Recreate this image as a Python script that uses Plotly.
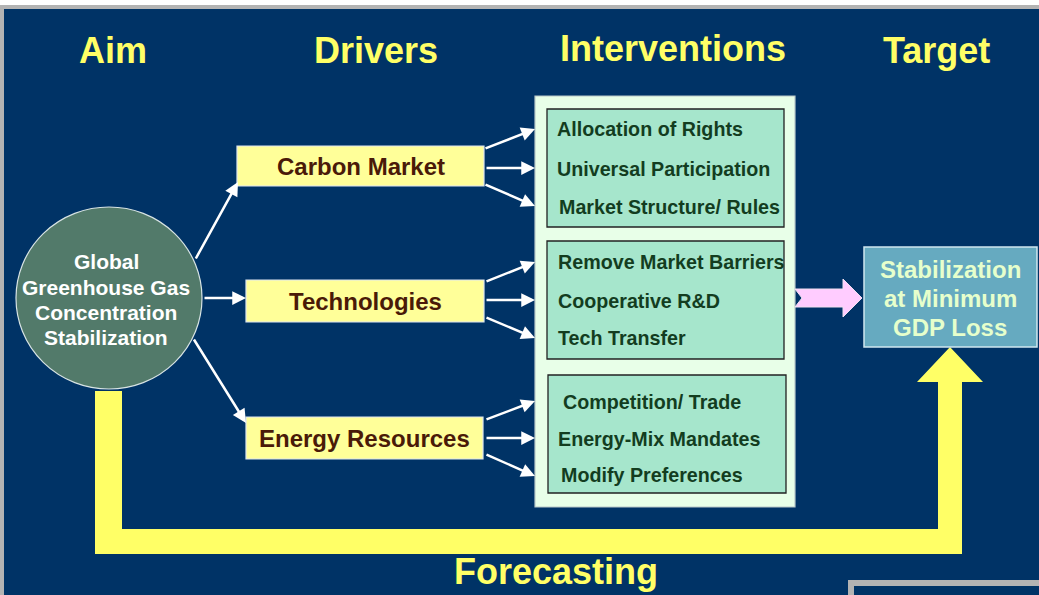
import plotly.graph_objects as go

# ---------------- content ----------------
headers = ["Aim", "Drivers", "Interventions", "Target"]
aim_lines = ["Global", "Greenhouse Gas", "Concentration", "Stabilization"]
drivers = ["Carbon Market", "Technologies", "Energy Resources"]
interventions = [
    ["Allocation of Rights", "Universal Participation", "Market Structure/ Rules"],
    ["Remove Market Barriers", "Cooperative R&D", "Tech Transfer"],
    ["Competition/ Trade", "Energy-Mix Mandates", "Modify Preferences"],
]
target_lines = ["Stabilization", "at Minimum", "GDP Loss"]
footer = "Forecasting"

# ---------------- geometry / styles ----------------
W, H = 1039, 595
NAVY = "#003366"
YELLOW = "#FFFF66"
GRAY = "#B3B3B3"
FONT = "Liberation Sans, Arial, sans-serif"

header_pos = [(113, 50), (376, 50), (673, 48), (936, 50)]
footer_pos = (556, 571)
circle_box = (16, 207, 202, 389)
aim_text_x = 106
aim_text_y = [261, 287, 312, 337]
driver_boxes = [(237, 146, 484, 186), (246, 280, 484, 322), (246, 417, 483, 459)]
outer_box = (535, 96, 795, 507)
inner_boxes = [(547, 109, 784, 227), (547, 241, 784, 359), (548, 375, 786, 493)]
interv_pos = [
    [(555, 129), (555, 169), (557, 207)],
    [(556, 262), (556, 301), (556, 338)],
    [(561, 402), (556, 439), (559, 475)],
]
circle_arrows = [((195, 260), (238, 182)), ((203, 298), (246, 298)), ((193, 338), (246, 423))]
driver_arrows = [
    [((484, 149), (535, 129)), ((485, 168), (535, 168)), ((484, 184), (535, 206))],
    [((485, 282), (535, 262)), ((485, 300), (535, 300)), ((485, 317), (535, 338))],
    [((485, 420), (535, 401)), ((485, 438), (535, 438)), ((485, 454), (535, 476))],
]
target_box = (864, 247, 1037, 347)
target_text_y = [269, 298, 327]
target_text_x = 950

fig = go.Figure()
shapes = []
ann = []


def rect(b, fill, line="rgba(0,0,0,0)", lw=0):
    shapes.append(dict(type="rect", x0=b[0], y0=b[1], x1=b[2], y1=b[3],
                       xref="x", yref="y", fillcolor=fill,
                       line=dict(color=line, width=lw)))


def text(x, y, s, size, color, xanchor="center"):
    ann.append(dict(x=x, y=y, xref="x", yref="y", text=s, showarrow=False,
                    xanchor=xanchor, yanchor="middle",
                    font=dict(family=FONT, size=size, color=color, weight="bold")))


def arrow(tail, head):
    ann.append(dict(x=head[0], y=head[1], ax=tail[0], ay=tail[1],
                    xref="x", yref="y", axref="x", ayref="y", text="",
                    showarrow=True, arrowhead=2, arrowsize=1.1, arrowwidth=2.5,
                    arrowcolor="white", standoff=0, startstandoff=0))


# background frame
rect((0, 5, W, H), GRAY)
rect((4, 9, W, H), NAVY)
shapes.append(dict(type="rect", x0=851, y0=583, x1=1050, y1=610, xref="x", yref="y",
                   fillcolor=NAVY, line=dict(color=GRAY, width=6)))

# yellow forecasting L-arrow
shapes.append(dict(type="path", xref="x", yref="y",
                   path="M 95,391 L 122,391 L 122,529 L 938,529 L 938,382 L 917,382 "
                        "L 950,347 L 983,382 L 962,382 L 962,554 L 95,554 Z",
                   fillcolor=YELLOW, line=dict(width=0)))

# circle
shapes.append(dict(type="circle", xref="x", yref="y",
                   x0=circle_box[0], y0=circle_box[1], x1=circle_box[2], y1=circle_box[3],
                   fillcolor="#527A6A", line=dict(color="#D8E4E4", width=1.2)))

# driver boxes
for b in driver_boxes:
    rect(b, "#FFFF99", "#DDE6F0", 1.2)

# interventions
rect(outer_box, "#E8FFE8", "#B8C8C8", 1.2)
for b in inner_boxes:
    rect(b, "#A6E6CC", "#222222", 1.3)

# pink notched arrow
shapes.append(dict(type="path", xref="x", yref="y",
                   path="M 795,289 L 843,289 L 843,279 L 862,298 L 843,317 L 843,307 "
                        "L 795,307 L 802,298 Z",
                   fillcolor="#FFCCFF", line=dict(color="#F0E0F0", width=1)))

# target box
rect(target_box, "#66AAC0", "#D0E8F0", 1.5)

# texts
for s, (x, y) in zip(headers, header_pos):
    text(x, y, s, 36, YELLOW)
text(footer_pos[0], footer_pos[1], footer, 36, YELLOW)

for s, y in zip(aim_lines, aim_text_y):
    text(aim_text_x, y, s, 21, "white")

for s, b in zip(drivers, driver_boxes):
    text((b[0] + b[2]) / 2, (b[1] + b[3]) / 2, s, 24, "#4A1A08")

for group, pos in zip(interventions, interv_pos):
    for s, (x, y) in zip(group, pos):
        text(x, y, s, 19.7, "#133D1F", xanchor="left")

for s, y in zip(target_lines, target_text_y):
    text(target_text_x, y, s, 24, "#E6FFCC")

for t, h in circle_arrows:
    arrow(t, h)
for group in driver_arrows:
    for t, h in group:
        arrow(t, h)

fig.update_layout(
    width=W, height=H, margin=dict(l=0, r=0, t=0, b=0),
    paper_bgcolor="white", plot_bgcolor="white",
    xaxis=dict(range=[0, W], visible=False, fixedrange=True),
    yaxis=dict(range=[H, 0], visible=False, fixedrange=True),
    shapes=shapes, annotations=ann, showlegend=False,
)
fig.write_html("out.html", config={"displayModeBar": False},
               post_script="document.body.style.margin='0';document.body.style.overflow='hidden';")
